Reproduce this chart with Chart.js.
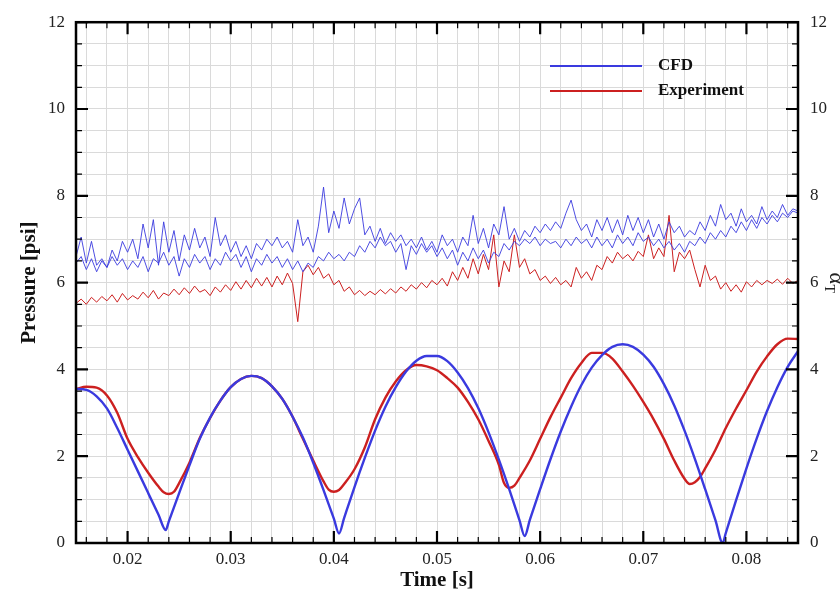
<!DOCTYPE html>
<html>
<head>
<meta charset="utf-8">
<script src="https://cdn.jsdelivr.net/npm/chart.js@4.4.1/dist/chart.umd.min.js"></script>
<style>
  html, body { margin: 0; padding: 0; background: #fff; }
  #wrap { width: 840px; height: 593px; }
</style>
</head>
<body>
<div id="wrap"><canvas id="chart" width="840" height="593"></canvas></div>
<script>
// smooth pressure curves (left axis)
const cfdTime = [0.015, 0.016, 0.017, 0.018, 0.019, 0.020, 0.021, 0.022, 0.023, 0.0237,
  0.024, 0.025, 0.026, 0.027, 0.028, 0.029, 0.030, 0.031, 0.032, 0.033, 0.034, 0.035, 0.036, 0.037, 0.038, 0.039, 0.040, 0.0405,
  0.041, 0.042, 0.043, 0.044, 0.045, 0.046, 0.047, 0.048, 0.049, 0.050, 0.051, 0.052, 0.053, 0.054, 0.055, 0.056, 0.057, 0.058, 0.0585,
  0.059, 0.060, 0.061, 0.062, 0.063, 0.064, 0.065, 0.066, 0.067, 0.068, 0.069, 0.070, 0.071, 0.072, 0.073, 0.074, 0.075, 0.076, 0.077, 0.0777,
  0.078, 0.079, 0.080, 0.081, 0.082, 0.083, 0.084, 0.085];
const cfdPressure = [3.55, 3.53, 3.38, 3.10, 2.65, 2.15, 1.65, 1.15, 0.65, 0.30,
  0.50, 1.15, 1.79, 2.40, 2.89, 3.28, 3.59, 3.78, 3.85, 3.80, 3.61, 3.32, 2.91, 2.43, 1.85, 1.22, 0.56, 0.22,
  0.58, 1.29, 1.96, 2.59, 3.14, 3.59, 3.95, 4.20, 4.31, 4.31, 4.19, 3.93, 3.57, 3.11, 2.55, 1.92, 1.24, 0.52, 0.16,
  0.53, 1.24, 1.93, 2.57, 3.14, 3.64, 4.04, 4.33, 4.52, 4.58, 4.52, 4.34, 4.06, 3.66, 3.17, 2.59, 1.94, 1.24, 0.52, 0.0,
  0.23, 0.99, 1.72, 2.41, 3.04, 3.59, 4.06, 4.42];

const expTime = [0.015, 0.016, 0.017, 0.018, 0.019, 0.020, 0.021, 0.022, 0.023, 0.0235, 0.024, 0.0245,
  0.025, 0.026, 0.027, 0.028, 0.029, 0.030, 0.031, 0.032, 0.033, 0.034, 0.035, 0.036, 0.037, 0.038, 0.039, 0.0395, 0.040, 0.0405,
  0.041, 0.042, 0.043, 0.044, 0.045, 0.046, 0.047, 0.048, 0.049, 0.050, 0.051, 0.052, 0.053, 0.054, 0.055, 0.056, 0.0565, 0.057, 0.0575,
  0.058, 0.059, 0.060, 0.061, 0.062, 0.063, 0.064, 0.065, 0.066, 0.067, 0.068, 0.069, 0.070, 0.071, 0.072, 0.073, 0.074, 0.0745, 0.075, 0.0755,
  0.076, 0.077, 0.078, 0.079, 0.080, 0.081, 0.082, 0.083, 0.084, 0.085];
const expPressure = [3.55, 3.60, 3.58, 3.40, 3.00, 2.40, 1.98, 1.62, 1.30, 1.17, 1.13, 1.18,
  1.38, 1.85, 2.42, 2.88, 3.28, 3.59, 3.78, 3.85, 3.80, 3.61, 3.32, 2.91, 2.40, 1.90, 1.42, 1.23, 1.18, 1.22,
  1.36, 1.70, 2.20, 2.85, 3.35, 3.72, 3.98, 4.10, 4.07, 3.98, 3.80, 3.58, 3.25, 2.85, 2.35, 1.80, 1.38, 1.27, 1.32,
  1.50, 1.90, 2.40, 2.90, 3.35, 3.80, 4.15, 4.38, 4.38, 4.25, 3.95, 3.62, 3.25, 2.85, 2.40, 1.90, 1.48, 1.36, 1.40, 1.52,
  1.72, 2.15, 2.65, 3.10, 3.52, 3.95, 4.30, 4.58, 4.71, 4.70];

// noisy alpha_T traces (right axis), sampled every 0.0005 s from 0.015
const noiseStart = 0.015;
const noiseStep = 0.0005;
const cfdAlphaA = [6.60, 7.05, 6.45, 6.95, 6.40, 6.55, 6.35, 6.75, 6.50, 6.95, 6.70, 7.00, 6.55, 7.35, 6.80, 7.45, 6.40, 7.40, 6.70, 7.20,
  6.50, 7.10, 6.75, 7.25, 6.80, 7.05, 6.60, 7.50, 6.85, 7.10, 6.70, 6.95, 6.60, 6.85, 6.55, 6.90, 6.75, 7.00, 6.85, 7.05,
  6.80, 6.95, 6.70, 7.45, 6.85, 7.05, 6.70, 7.30, 8.20, 7.15, 7.65, 7.25, 7.95, 7.35, 7.70, 7.95, 7.10, 7.30, 6.95, 7.25,
  6.90, 7.15, 6.95, 7.10, 6.85, 7.00, 6.80, 7.05, 6.75, 6.95, 6.70, 7.10, 6.85, 7.00, 6.70, 7.05, 6.85, 7.55, 6.90, 7.25,
  6.80, 7.35, 7.10, 7.75, 7.00, 7.25, 6.95, 7.20, 7.05, 7.30, 7.15, 7.35, 7.20, 7.40, 7.25, 7.60, 7.90, 7.45, 7.20, 7.35,
  7.05, 7.45, 7.20, 7.50, 7.15, 7.45, 7.10, 7.55, 7.20, 7.50, 7.15, 7.45, 7.05, 7.35, 7.00, 7.40, 7.15, 7.30, 7.05, 7.20,
  7.10, 7.40, 7.20, 7.55, 7.30, 7.80, 7.45, 7.60, 7.30, 7.70, 7.40, 7.55, 7.35, 7.75, 7.45, 7.65, 7.50, 7.80, 7.55, 7.70, 7.65];
const cfdAlphaB = [6.45, 6.60, 6.30, 6.55, 6.25, 6.50, 6.35, 6.60, 6.40, 6.55, 6.30, 6.50, 6.35, 6.60, 6.25, 6.55, 6.45, 6.70, 6.40, 6.60,
  6.15, 6.55, 6.35, 6.65, 6.45, 6.60, 6.30, 6.55, 6.40, 6.70, 6.50, 6.65, 6.35, 6.60, 6.25, 6.55, 6.40, 6.65, 6.45, 6.60,
  6.35, 6.55, 6.30, 6.50, 6.25, 6.45, 6.35, 6.60, 6.50, 6.70, 6.55, 6.65, 6.50, 6.70, 6.60, 6.85, 6.70, 6.95, 6.80, 7.05,
  6.85, 6.95, 6.70, 6.90, 6.30, 6.85, 6.65, 6.90, 6.70, 6.85, 6.60, 6.80, 6.55, 6.75, 6.40, 6.70, 6.50, 6.80, 6.55, 6.75,
  6.45, 6.70, 6.60, 6.90, 6.75, 6.95, 6.85, 7.00, 6.90, 7.05, 6.85, 7.00, 6.90, 6.95, 6.80, 7.00, 6.85, 7.05, 6.90, 7.00,
  6.80, 7.05, 6.85, 7.00, 6.80, 7.10, 6.90, 7.05, 6.85, 7.15, 6.95, 7.05, 6.85, 7.00, 6.80, 6.95, 6.75, 6.90, 6.70, 6.95,
  6.85, 7.05, 6.90, 7.15, 7.00, 7.20, 7.05, 7.30, 7.15, 7.40, 7.20, 7.45, 7.25, 7.50, 7.35, 7.55, 7.40, 7.60, 7.50, 7.65, 7.60];
const expAlpha = [5.52, 5.62, 5.50, 5.66, 5.55, 5.68, 5.58, 5.72, 5.55, 5.75, 5.60, 5.70, 5.62, 5.78, 5.65, 5.82, 5.62, 5.76, 5.70, 5.85,
  5.72, 5.88, 5.75, 5.92, 5.78, 5.84, 5.70, 5.90, 5.78, 5.95, 5.82, 6.02, 5.85, 6.05, 5.88, 6.10, 5.92, 6.12, 5.90, 6.15,
  5.95, 6.22, 5.98, 5.10, 6.25, 6.40, 6.18, 6.35, 6.10, 6.20, 5.95, 6.05, 5.80, 5.90, 5.72, 5.82, 5.70, 5.80, 5.72, 5.84,
  5.74, 5.86, 5.76, 5.90, 5.80, 5.95, 5.85, 6.00, 5.88, 6.05, 5.95, 6.10, 5.92, 6.25, 6.05, 6.35, 6.10, 6.55, 6.20, 6.65,
  6.30, 7.10, 5.90, 6.50, 6.25, 7.10, 6.35, 6.55, 6.20, 6.30, 6.05, 6.15, 5.98, 6.12, 5.95, 6.05, 5.90, 6.35, 6.10, 6.25,
  6.05, 6.40, 6.30, 6.60, 6.45, 6.70, 6.55, 6.65, 6.50, 6.72, 6.60, 7.10, 6.55, 6.80, 6.60, 7.55, 6.25, 6.70, 6.55, 6.75,
  6.30, 5.90, 6.40, 6.05, 6.15, 5.85, 6.00, 5.80, 5.95, 5.78, 6.02, 5.90, 6.05, 5.95, 6.05, 5.98, 6.08, 5.96, 6.10, 5.98, 6.05];

// axis ticks
const xMajorTicks = [0.02, 0.03, 0.04, 0.05, 0.06, 0.07, 0.08];
const yMajorTicks = [0, 2, 4, 6, 8, 10, 12];

const xGrid = [];
for (let i = 16; i <= 84; i += 2) xGrid.push(i / 1000);
const yGrid = [];
for (let i = 0; i <= 24; i++) yGrid.push(i / 2);

const blue = "#3a3adf";
const red = "#cc2020";
const serif = '"Liberation Serif", "Times New Roman", serif';

const pairs = (xs, ys) => ys.map((v, i) => ({ x: xs[i], y: v }));
const noiseTime = cfdAlphaA.map((_, i) => +(noiseStart + i * noiseStep).toFixed(4));

const isMajorX = (v) => xMajorTicks.some((m) => Math.abs(m - v) < 1e-7);
const isMajorY = (v) => yMajorTicks.includes(v);

// inside tick marks, frame, legend and the right axis title
const frameAndLegend = {
  id: "frameAndLegend",
  afterDatasetsDraw(chart) {
    const { ctx, chartArea: a, scales } = chart;
    const x = scales.x, y = scales.y;
    ctx.save();
    ctx.strokeStyle = "#000";
    xGrid.forEach((v) => {
      const px = x.getPixelForValue(v);
      const major = isMajorX(v);
      const len = major ? 12 : 6;
      ctx.lineWidth = major ? 2.2 : 1.2;
      ctx.beginPath();
      ctx.moveTo(px, a.bottom); ctx.lineTo(px, a.bottom - len);
      ctx.moveTo(px, a.top); ctx.lineTo(px, a.top + len);
      ctx.stroke();
    });
    yGrid.forEach((v) => {
      const py = y.getPixelForValue(v);
      const major = isMajorY(v);
      const len = major ? 12 : 6;
      ctx.lineWidth = major ? 2.2 : 1.2;
      ctx.beginPath();
      ctx.moveTo(a.left, py); ctx.lineTo(a.left + len, py);
      ctx.moveTo(a.right, py); ctx.lineTo(a.right - len, py);
      ctx.stroke();
    });
    ctx.lineWidth = 2.5;
    ctx.strokeRect(a.left, a.top, a.right - a.left, a.bottom - a.top);

    // legend
    const items = [
      { label: "CFD", color: blue, y: 66 },
      { label: "Experiment", color: red, y: 91 },
    ];
    ctx.font = "bold 17px " + serif;
    ctx.textBaseline = "middle";
    ctx.fillStyle = "#111";
    items.forEach((it) => {
      ctx.strokeStyle = it.color;
      ctx.lineWidth = 2.2;
      ctx.beginPath();
      ctx.moveTo(550, it.y); ctx.lineTo(642, it.y);
      ctx.stroke();
      ctx.fillText(it.label, 658, it.y);
    });

    // right axis title: alpha with subscript T, next to the "6" label
    ctx.translate(826, (a.top + a.bottom) / 2);
    ctx.rotate(Math.PI / 2);
    ctx.fillStyle = "#222";
    ctx.textBaseline = "alphabetic";
    ctx.font = "22px " + serif;
    ctx.fillText("α", -10, -4);
    ctx.font = "14px " + serif;
    ctx.fillText("T", 2, 1);
    ctx.restore();
  },
};

new Chart(document.getElementById("chart"), {
  type: "line",
  data: {
    datasets: [
      { label: "CFD αT A", data: pairs(noiseTime, cfdAlphaA), yAxisID: "y2", borderColor: blue, borderWidth: 0.9, pointRadius: 0, tension: 0 },
      { label: "CFD αT B", data: pairs(noiseTime, cfdAlphaB), yAxisID: "y2", borderColor: blue, borderWidth: 0.9, pointRadius: 0, tension: 0 },
      { label: "Experiment αT", data: pairs(noiseTime, expAlpha), yAxisID: "y2", borderColor: red, borderWidth: 1, pointRadius: 0, tension: 0 },
      { label: "CFD", data: pairs(cfdTime, cfdPressure), yAxisID: "y", borderColor: blue, borderWidth: 2.4, pointRadius: 0, cubicInterpolationMode: "monotone" },
      { label: "Experiment", data: pairs(expTime, expPressure), yAxisID: "y", borderColor: red, borderWidth: 2.4, pointRadius: 0, cubicInterpolationMode: "monotone" },
    ],
  },
  options: {
    responsive: false,
    animation: false,
    devicePixelRatio: 1,
    layout: { padding: { top: 14, left: 0, right: 0, bottom: 0 } },
    plugins: { legend: { display: false }, tooltip: { enabled: false } },
    scales: {
      x: {
        type: "linear",
        min: 0.015,
        max: 0.085,
        afterBuildTicks: (s) => { s.ticks = xGrid.map((v) => ({ value: v })); },
        afterFit: (s) => { s.height = 50; },
        grid: { color: "#dadada", lineWidth: 1, drawTicks: false },
        border: { display: false },
        ticks: {
          autoSkip: false,
          maxRotation: 0,
          padding: 6,
          color: "#222",
          font: { family: serif, size: 17 },
          callback: (v) => (isMajorX(v) ? v.toFixed(2) : ""),
        },
        title: {
          display: true,
          text: "Time [s]",
          color: "#111",
          font: { family: serif, size: 21, weight: "bold" },
          padding: { top: 0, bottom: 0 },
        },
      },
      y: {
        position: "left",
        min: 0,
        max: 12,
        afterBuildTicks: (s) => { s.ticks = yGrid.map((v) => ({ value: v })); },
        afterFit: (s) => { s.width = 76; },
        grid: { color: "#dadada", lineWidth: 1, drawTicks: false },
        border: { display: false },
        ticks: {
          autoSkip: false,
          padding: 11,
          color: "#222",
          font: { family: serif, size: 17 },
          callback: (v) => (isMajorY(v) ? String(v) : ""),
        },
        title: {
          display: true,
          text: "Pressure [psi]",
          color: "#111",
          font: { family: serif, size: 21, weight: "bold" },
          padding: { top: 17, bottom: 0 },
        },
      },
      y2: {
        position: "right",
        min: 0,
        max: 12,
        afterBuildTicks: (s) => { s.ticks = yGrid.map((v) => ({ value: v })); },
        afterFit: (s) => { s.width = 42; },
        grid: { display: false, drawTicks: false },
        border: { display: false },
        ticks: {
          autoSkip: false,
          padding: 12,
          color: "#222",
          font: { family: serif, size: 17 },
          callback: (v) => (isMajorY(v) ? String(v) : ""),
        },
      },
    },
  },
  plugins: [frameAndLegend],
});
</script>
</body>
</html>
